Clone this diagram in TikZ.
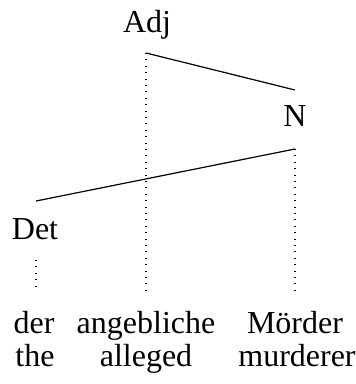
\documentclass[tikz,border=0pt]{standalone}
\usepackage{fontspec}
\setmainfont{Liberation Serif}
\usetikzlibrary{positioning}
\begin{document}
\begin{tikzpicture}[x=0.375pt,y=-0.375pt,
    every node/.style={font=\fontsize{12}{14}\selectfont,anchor=base,inner sep=0pt},
    branch/.style={line width=0.45pt},
    trace/.style={dotted,line width=0.4pt}
]
\useasboundingbox (0,0) rectangle (355,384);
% categories
\node (adj) at (147,33)  {Adj};
\node (n)   at (295,127) {N};
\node (det) at (35,239)  {Det};
% words and glosses
\node (der)  at (34,333)  {der};
\node (ang)  at (146,333) {angebliche};
\node (moe)  at (295,333) {Mörder};
\node (the)  at (35,366)  {the};
\node (all)  at (146,366) {alleged};
\node (mur)  at (297,366) {murderer};
% end points of the branches
\coordinate (adj-foot) at (146,53);
\coordinate (n-head)   at (295,90);
\coordinate (n-foot)   at (295,149);
\coordinate (det-head) at (36,201);
\coordinate (det-foot) at (36,260);
\coordinate (der-top)  at (36,291);
\coordinate (ang-top)  at (146,291);
\coordinate (moe-top)  at (295,291);

\path[branch]
    (adj-foot) edge (n-head)
    (n-foot) edge (det-head);

\path[trace]
    (adj-foot) edge (ang-top)
    (n-foot) edge (moe-top)
    (det-foot) edge (der-top);
\end{tikzpicture}
\end{document}
